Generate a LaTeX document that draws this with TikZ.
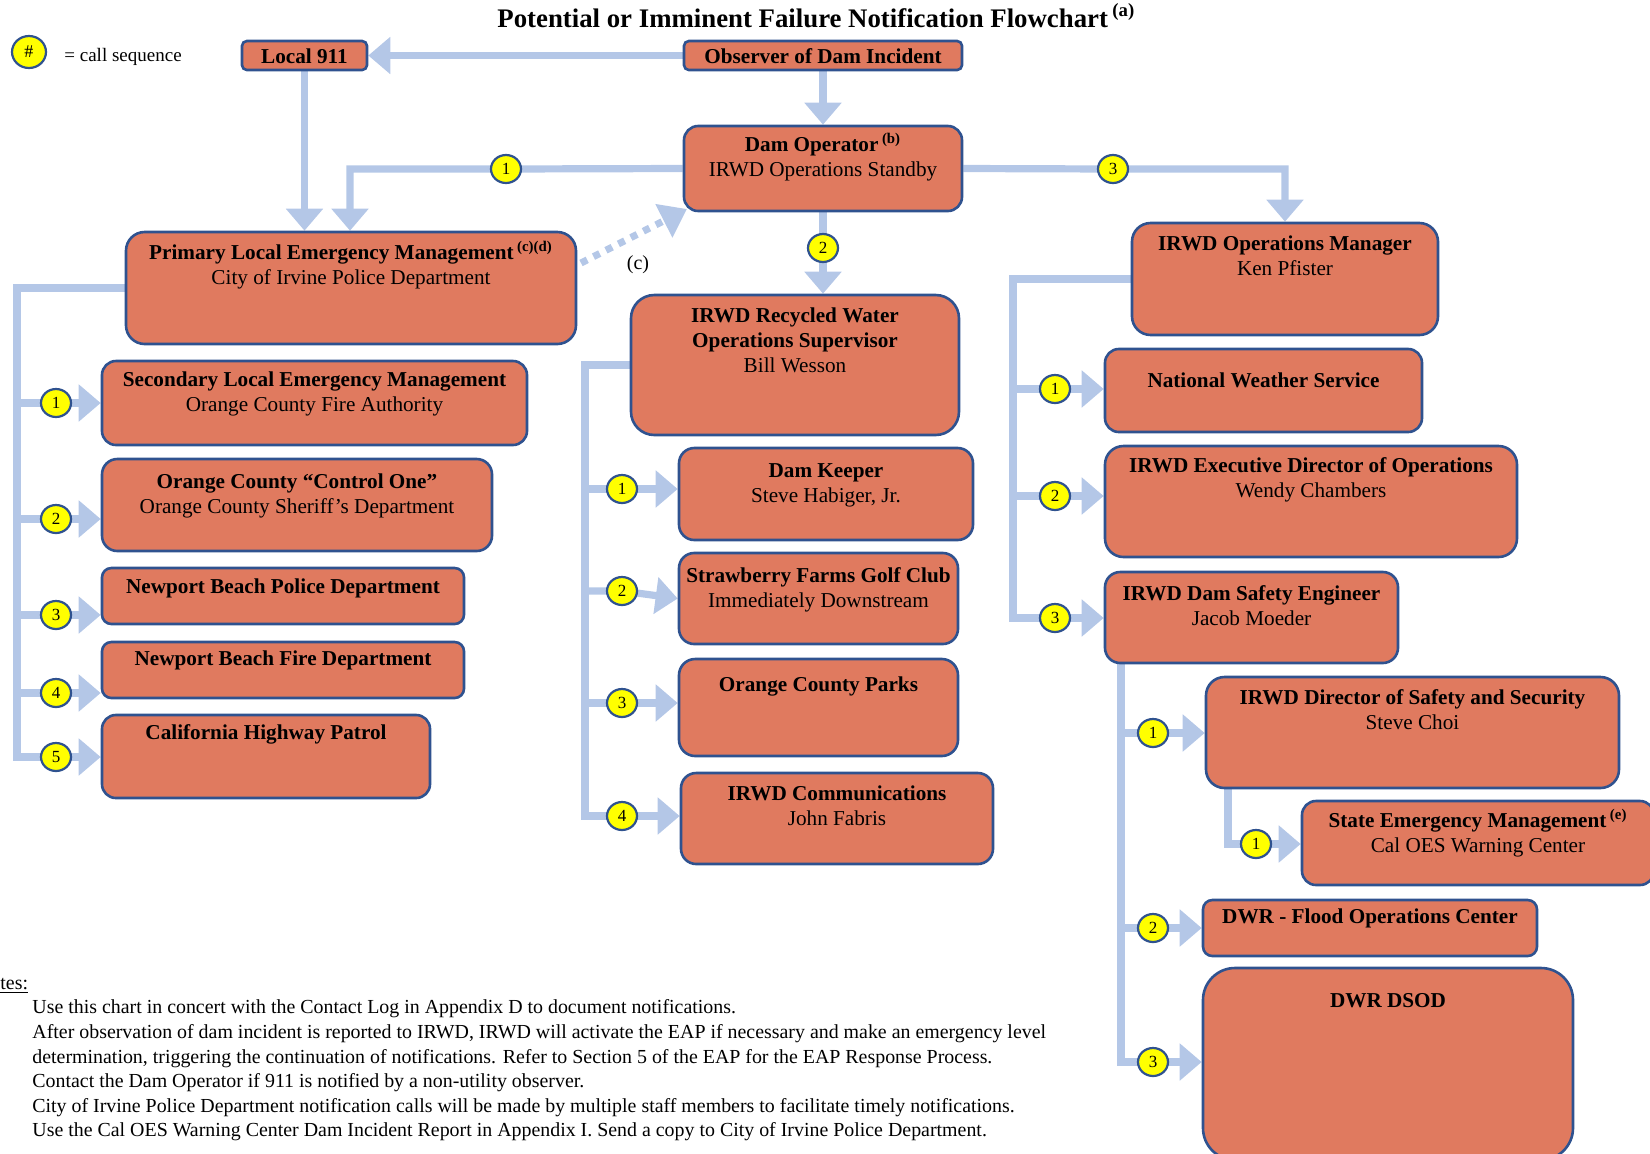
\documentclass[tikz,border=0pt]{standalone}
\usepackage{fontspec}
\setmainfont{Liberation Serif}
\usetikzlibrary{arrows.meta,shapes.geometric}
\pgfdeclarelayer{bg}
\pgfsetlayers{bg,main}
\definecolor{boxfill}{RGB}{224,122,95}
\definecolor{boxline}{RGB}{47,82,143}
\definecolor{lblue}{RGB}{180,199,231}
\definecolor{numfill}{RGB}{255,255,0}
\tikzset{
  boxst/.style={draw=boxline, fill=boxfill, line width=1.3pt, inner sep=0pt, font=\fontsize{10.6pt}{12.5pt}\selectfont},
  num/.style={ellipse, draw=boxline, fill=numfill, line width=1.1pt, minimum width=15pt, minimum height=14pt, inner sep=0pt, font=\fontsize{8.5pt}{9pt}\selectfont},
  conn/.style={draw=lblue, line width=3.6pt},
  arr/.style={conn, -{Triangle[length=11pt,width=18pt]}},
  dotarr/.style={draw=lblue, line width=3.5pt, dash pattern=on 3.5pt off 3.5pt, -{Triangle[length=13pt,width=18pt]}},
  notest/.style={anchor=base west, inner sep=0pt, font=\fontsize{9.95pt}{12pt}\selectfont},
}
\newcommand\bx[7]{%
  \pgfmathsetmacro\myBW{(#4-#2)*0.5}%
  \pgfmathsetmacro\myBH{(#5-#3)*0.5}%
  \pgfmathsetmacro\myBR{min(\myBW,\myBH)/6}%
  \node[boxst, rounded corners=\myBR pt, minimum width=\myBW pt, minimum height=\myBH pt] (#1) at ({(#2+#4)/2},{(#3+#5)/2}) {\parbox[c][\myBH pt][t]{\myBW pt}{\centering\vspace*{#6pt}\strut #7}};%
}
\begin{document}
\begin{tikzpicture}[x=0.5pt,y=-0.5pt]
\useasboundingbox (0,0) rectangle (1650,1153);
\clip (0,0) rectangle (1650,1153);
% title and legend
\node[anchor=base west, inner sep=0pt, font=\fontsize{13.4pt}{15pt}\selectfont\bfseries] (title) at (497,27) {Potential or Imminent Failure Notification Flowchart\,\textsuperscript{(a)}};
\node[num, minimum width=17pt, minimum height=16pt, font=\fontsize{9pt}{10pt}\selectfont] (leg) at (29,52) {\#};
\node[anchor=base west, inner sep=0pt, font=\fontsize{9.5pt}{11pt}\selectfont] (legt) at (64,61) {= call sequence};
% boxes
\bx{local911}{242}{41}{367}{70}{2.25}{{\bfseries Local 911}}
\bx{observer}{684}{41}{962}{70}{2.25}{{\bfseries Observer of Dam Incident}}
\bx{damop}{684}{126}{962}{211}{3.75}{{\bfseries Dam Operator\,\textsuperscript{(b)}}\\IRWD Operations Standby}
\bx{primary}{126}{232}{576}{344}{4.75}{{\bfseries Primary Local Emergency Management\,\textsuperscript{(c)(d)}}\\City of Irvine Police Department}
\bx{opsmgr}{1132}{223}{1438}{335}{4.75}{{\bfseries IRWD Operations Manager}\\Ken Pfister}
\bx{recycled}{631}{295}{959}{435}{4.75}{{\bfseries IRWD Recycled Water\\Operations Supervisor}\\Bill Wesson}
\bx{secondary}{102}{361}{527}{445}{3.75}{{\bfseries Secondary Local Emergency Management}\\Orange County Fire Authority}
\bx{controlone}{102}{459}{492}{551}{5.75}{{\bfseries Orange County “Control One”}\\Orange County Sheriff’s Department}
\bx{nbpolice}{102}{568}{464}{624}{3.75}{{\bfseries Newport Beach Police Department}}
\bx{nbfire}{102}{642}{464}{698}{3}{{\bfseries Newport Beach Fire Department}}
\bx{chp}{102}{715}{430}{798}{3.25}{{\bfseries California Highway Patrol}}
\bx{damkeeper}{679}{448}{973}{540}{5.75}{{\bfseries Dam Keeper}\\Steve Habiger, Jr.}
\bx{strawberry}{679}{553}{958}{644}{5.75}{{\bfseries Strawberry Farms Golf Club}\\Immediately Downstream}
\bx{ocparks}{679}{659}{958}{756}{7.25}{{\bfseries Orange County Parks}}
\bx{comms}{681}{773}{993}{864}{4.75}{{\bfseries IRWD Communications}\\John Fabris}
\bx{nws}{1105}{349}{1422}{432}{10.25}{{\bfseries National Weather Service}}
\bx{execdir}{1105}{446}{1517}{557}{4.25}{{\bfseries IRWD Executive Director of Operations}\\Wendy Chambers}
\bx{damsafety}{1105}{572}{1398}{663}{5.25}{{\bfseries IRWD Dam Safety Engineer}\\Jacob Moeder}
\bx{dirsafety}{1206}{677}{1619}{788}{4.75}{{\bfseries IRWD Director of Safety and Security}\\Steve Choi}
\bx{state}{1302}{801}{1654}{885}{4.25}{{\bfseries State Emergency Management\,\textsuperscript{(e)}}\\Cal OES Warning Center}
\bx{dwrflood}{1203}{900}{1537}{956}{2.75}{{\bfseries DWR - Flood Operations Center}}
\bx{dsod}{1203}{968}{1573}{1160}{10.75}{{\bfseries DWR DSOD}}
% sequence circles
\node[num] (T1) at (506,169) {1};
\node[num] (T2) at (823,248) {2};
\node[num] (T3) at (1113,169) {3};
\node[num] (L1) at (56,403) {1};
\node[num] (L2) at (56,519) {2};
\node[num] (L3) at (56,615) {3};
\node[num] (L4) at (56,693) {4};
\node[num] (L5) at (56,757) {5};
\node[num] (M1) at (622,489) {1};
\node[num] (M2) at (622,591) {2};
\node[num] (M3) at (622,703) {3};
\node[num] (M4) at (622,816) {4};
\node[num] (R1) at (1055,389) {1};
\node[num] (R2) at (1055,496) {2};
\node[num] (R3) at (1055,618) {3};
\node[num] (D1) at (1153,733) {1};
\node[num] (D2) at (1153,928) {2};
\node[num] (D3) at (1153,1062) {3};
\node[num] (S1) at (1256,844) {1};
\node[inner sep=0pt, font=\fontsize{10pt}{12pt}\selectfont] (clab) at (638,265) {(c)};
% bend points
\coordinate (busL) at (17,288);
\coordinate (busM) at (585,365);
\coordinate (busR) at (1013,279);
\coordinate (busD) at (1121,663);
\coordinate (busS) at (1228,788);
\coordinate (tl) at (350,169);
\coordinate (tr) at (1285,169);
\coordinate (dotS) at (581,263);
\coordinate (dotE) at (687,209);
% notes
\node[notest] (n0) at (0,989) {\underline{tes:}};
\node[notest] (n1) at (32,1013) {Use this chart in concert with the Contact Log in Appendix D to document notifications.};
\node[notest] (n2) at (32,1038) {After observation of dam incident is reported to IRWD, IRWD will activate the EAP if necessary and make an emergency level};
\node[notest] (n3) at (32,1063) {determination, triggering the continuation of notifications. Refer to Section 5 of the EAP for the EAP Response Process.};
\node[notest] (n4) at (32,1087) {Contact the Dam Operator if 911 is notified by a non-utility observer.};
\node[notest] (n5) at (32,1112) {City of Irvine Police Department notification calls will be made by multiple staff members to facilitate timely notifications.};
\node[notest] (n6) at (32,1136) {Use the Cal OES Warning Center Dam Incident Report in Appendix I. Send a copy to City of Irvine Police Department.};
% connectors
\begin{pgfonlayer}{bg}
\draw[arr] (observer.west) -- (local911.east);
\draw[arr] (observer.south) -- (damop.north);
\draw[arr] (local911.south) -- (local911.south |- primary.north);
\draw[arr] (damop.west) -- (T1.center) -- (tl) -- (tl |- primary.north);
\draw[arr] (damop.east) -- (T3.center) -- (tr) -- (opsmgr.north);
\draw[arr] (damop.south) -- (T2.center) -- (damop.south |- recycled.north);
\draw[dotarr] (dotS) -- (dotE);
\draw[arr] (primary.west) -- (busL) -- (busL |- L5) -- (L5.center) -- (chp.west |- L5);
\foreach \c/\b in {L1/secondary, L2/controlone, L3/nbpolice, L4/nbfire}
  \draw[arr] (busL |- \c) -- (\c.center) -- (\b.west |- \c);
\draw[arr] (recycled.west) -- (busM) -- (busM |- M4) -- (M4.center) -- (comms.west |- M4);
\draw[arr] (busM |- M1) -- (M1.center) -- (damkeeper.west |- M1);
\draw[arr] (busM |- M2) -- (M2.center) -- (strawberry.west);
\draw[arr] (busM |- M3) -- (M3.center) -- (ocparks.west |- M3);
\draw[arr] (opsmgr.west) -- (busR) -- (busR |- R3) -- (R3.center) -- (damsafety.west |- R3);
\draw[arr] (busR |- R1) -- (R1.center) -- (nws.west |- R1);
\draw[arr] (busR |- R2) -- (R2.center) -- (execdir.west |- R2);
\draw[arr] (busD) -- (busD |- D3) -- (D3.center) -- (dsod.west |- D3);
\draw[arr] (busD |- D1) -- (D1.center) -- (dirsafety.west |- D1);
\draw[arr] (busD |- D2) -- (D2.center) -- (dwrflood.west |- D2);
\draw[arr] (busS) -- (busS |- S1) -- (S1.center) -- (state.west |- S1);
\end{pgfonlayer}
\end{tikzpicture}
\end{document}
